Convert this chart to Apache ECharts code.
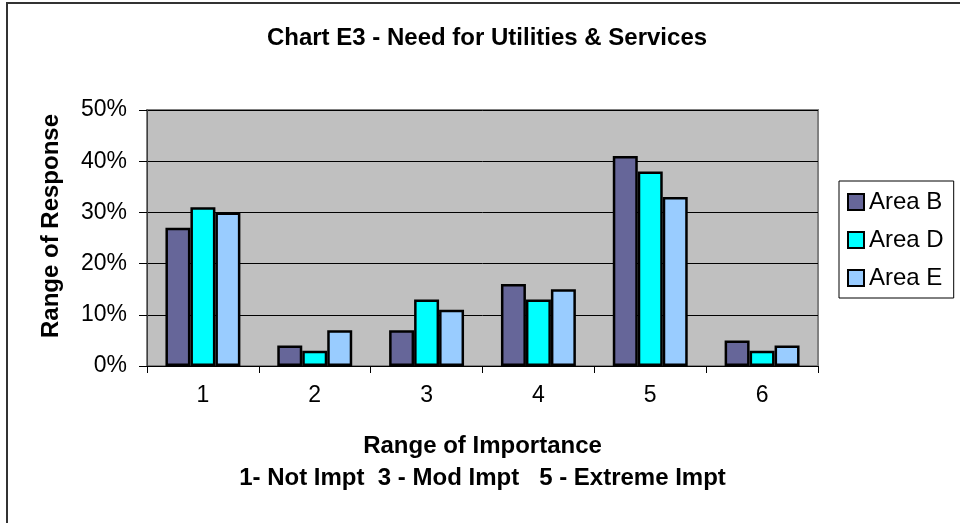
<!DOCTYPE html>
<html>
<head>
<meta charset="utf-8">
<title>Chart E3</title>
<script src="https://cdn.jsdelivr.net/npm/echarts@6/dist/echarts.min.js"></script>
<style>
  html, body { margin: 0; padding: 0; background: #fff; }
  #chart { width: 960px; height: 523px; }
</style>
</head>
<body>
<div id="chart"></div>
<script>
// values, in percent
const categories = ['1', '2', '3', '4', '5', '6']
const areaB = [27, 4, 7, 16, 41, 5]
const areaD = [31, 3, 13, 13, 38, 3]
const areaE = [30, 7, 11, 15, 33, 4]
const seriesNames = ['Area B', 'Area D', 'Area E']
const seriesColors = ['#666699', '#00FFFF', '#99CCFF']
const yTicks = { min: 0, max: 50, interval: 10 }

const font = '"Liberation Sans", Arial, sans-serif'

const chart = echarts.init(document.getElementById('chart'))

const makeSeries = (name, data, color) => ({
  name: name,
  type: 'bar',
  data: data,
  barGap: '0%',
  barCategoryGap: '33%',
  itemStyle: {
    color: color,
    borderColor: '#000',
    borderWidth: 2.5
  }
})

const option = {
  animation: false,
  backgroundColor: '#fff',
  textStyle: { fontFamily: font },
  title: {
    text: 'Chart E3 - Need for Utilities & Services',
    left: 487,
    top: 26,
    textAlign: 'center',
    padding: 0,
    textStyle: { fontFamily: font, fontSize: 24, fontWeight: 'bold', color: '#000' }
  },
  grid: {
    left: 147,
    right: 142,
    top: 110,
    bottom: 157,
    show: true,
    backgroundColor: '#C0C0C0',
    borderColor: '#808080',
    borderWidth: 2
  },
  legend: {
    orient: 'vertical',
    left: 839,
    top: 181,
    padding: [9, 10, 8, 8],
    itemGap: 14,
    itemWidth: 16,
    itemHeight: 16,
    icon: 'rect',
    borderColor: '#000',
    borderWidth: 1,
    backgroundColor: '#fff',
    data: seriesNames,
    textStyle: { fontFamily: font, fontSize: 24, color: '#000', width: 78 }
  },
  xAxis: {
    type: 'category',
    data: categories,
    name: 'Range of Importance\n1- Not Impt  3 - Mod Impt   5 - Extreme Impt',
    nameLocation: 'middle',
    nameGap: 64,
    nameTextStyle: { fontFamily: font, fontSize: 24, fontWeight: 'bold', color: '#000', lineHeight: 32 },
    axisLine: { lineStyle: { color: '#000', width: 1 } },
    axisTick: { show: true, length: 7, lineStyle: { color: '#000' } },
    axisLabel: { margin: 18, fontFamily: font, fontSize: 23, color: '#000' },
    splitLine: { show: false }
  },
  yAxis: {
    type: 'value',
    min: yTicks.min,
    max: yTicks.max,
    interval: yTicks.interval,
    name: 'Range of Response',
    nameLocation: 'middle',
    nameGap: 84,
    nameTextStyle: { fontFamily: font, fontSize: 24, fontWeight: 'bold', color: '#000', padding: [0, 0, 0, 24] },
    axisLine: { show: true, lineStyle: { color: '#404040', width: 1 } },
    axisTick: { show: true, length: 8, lineStyle: { color: '#000' } },
    axisLabel: { margin: 20, fontFamily: font, fontSize: 23, color: '#000', formatter: '{value}%' },
    splitLine: { show: true, lineStyle: { color: '#000', width: 1 } }
  },
  graphic: [
    {
      type: 'rect',
      shape: { x: 7, y: 3, width: 1000, height: 600 },
      style: { fill: 'none', stroke: '#333', lineWidth: 2 },
      silent: true,
      z: 100
    }
  ],
  series: [
    makeSeries(seriesNames[0], areaB, seriesColors[0]),
    makeSeries(seriesNames[1], areaD, seriesColors[1]),
    makeSeries(seriesNames[2], areaE, seriesColors[2])
  ]
}

chart.setOption(option)
</script>
</body>
</html>
